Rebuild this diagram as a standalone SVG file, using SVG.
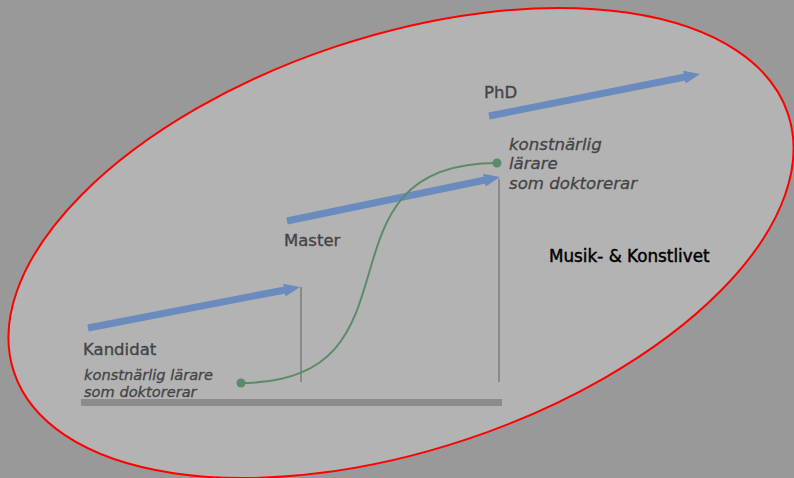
<svg xmlns="http://www.w3.org/2000/svg" width="794" height="478" viewBox="0 0 794 478">
<defs>
<marker id="head" markerUnits="userSpaceOnUse" markerWidth="16" markerHeight="13" viewBox="0 0 16 13" refX="2" refY="6.5" orient="auto">
<path d="M0,0 L16,6.5 L0,13 z" fill="#6a8bbd"/>
</marker>
<style>
.arrow{stroke:#6a8bbd;stroke-width:7;fill:none;marker-end:url(#head)}
.post{stroke:#8a8a8a;stroke-width:2}
.lbl{font-family:"DejaVu Sans",sans-serif;font-size:16.5px;fill:#444;stroke:#444;stroke-width:0.35}
.it{font-family:"DejaVu Sans",sans-serif;font-style:italic;fill:#444;stroke:#444;stroke-width:0.3}
</style>
</defs>
<rect width="794" height="478" fill="#999999"/>
<g id="field">
<ellipse cx="401" cy="243" rx="408" ry="207" transform="rotate(-18.45 401 243)" fill="#b3b3b3" stroke="#ff0000" stroke-width="2"/>
<text x="549" y="262" font-family="DejaVu Sans, sans-serif" font-size="16.8" fill="#000" stroke="#000" stroke-width="0.45">Musik- &amp; Konstlivet</text>
</g>
<g id="base">
<rect x="81" y="399" width="421" height="7" fill="#8c8c8c"/>
<line class="post" x1="301" y1="287" x2="301" y2="382"/>
<line class="post" x1="499" y1="179" x2="499" y2="382"/>
</g>
<g id="kandidat">
<line class="arrow" x1="88" y1="328" x2="286.3" y2="289.7"/>
<text class="lbl" x="83" y="355">Kandidat</text>
</g>
<g id="master">
<line class="arrow" x1="287" y1="221" x2="486.3" y2="179.8"/>
<text class="lbl" x="284" y="246">Master</text>
</g>
<g id="phd">
<line class="arrow" x1="489" y1="116" x2="686.3" y2="76.7"/>
<text class="lbl" x="484" y="98">PhD</text>
</g>
<g id="start">
<circle cx="241" cy="383" r="4.5" fill="#5b8c6a"/>
<text class="it" font-size="14.6" x="84" y="380">konstnärlig lärare</text>
<text class="it" font-size="14.6" x="84" y="397">som doktorerar</text>
</g>
<g id="end">
<circle cx="497" cy="163" r="4.5" fill="#5b8c6a"/>
<text class="it" font-size="16.6" x="509" y="150">konstnärlig</text>
<text class="it" font-size="16.6" x="509" y="169">lärare</text>
<text class="it" font-size="16.6" x="509" y="189">som doktorerar</text>
</g>
<g id="connectors">
<path d="M241,383 C433,383 305,163 497,163" fill="none" stroke="#5b8c6a" stroke-width="2"/>
</g>
</svg>
